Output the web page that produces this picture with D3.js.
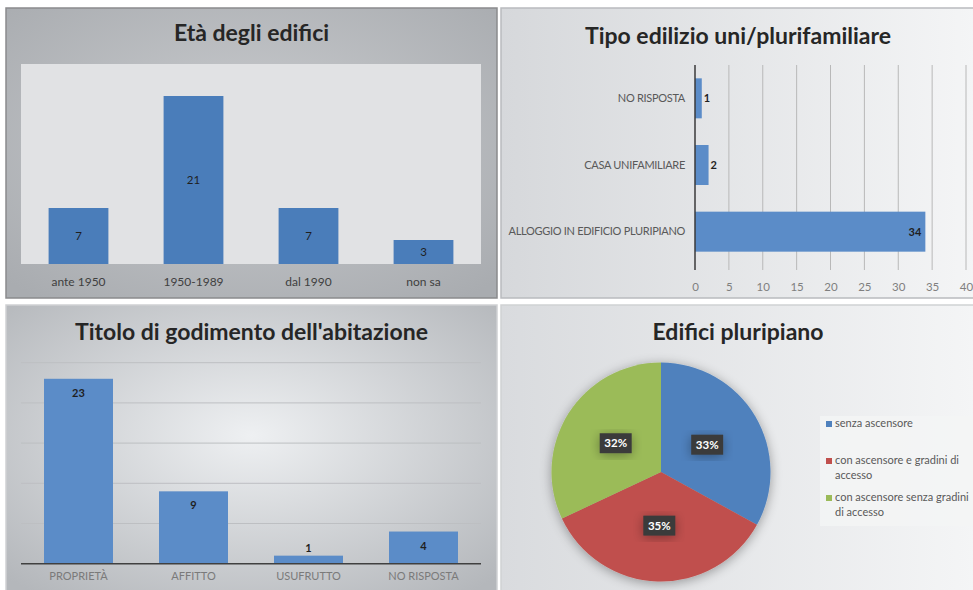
<!DOCTYPE html>
<html>
<head>
<meta charset="utf-8">
<script src="https://cdn.jsdelivr.net/npm/d3@7"></script>
<style>
  body { margin: 0; background: #fff; }
  svg text { font-family: Lato, "Open Sans", sans-serif; }
</style>
</head>
<body>
<div id="vis"></div>
<script>
'use strict';

// chart data
var ageCats = ['ante 1950', '1950-1989', 'dal 1990', 'non sa'];
var ageVals = [7, 21, 7, 3];

var typeCats = ['NO RISPOSTA', 'CASA UNIFAMILIARE', 'ALLOGGIO IN EDIFICIO PLURIPIANO'];
var typeVals = [1, 2, 34];
var typeTicks = [0, 5, 10, 15, 20, 25, 30, 35, 40];

var tenureCats = ['PROPRIETÀ', 'AFFITTO', 'USUFRUTTO', 'NO RISPOSTA'];
var tenureVals = [23, 9, 1, 4];

var liftCats = ['senza ascensore', 'con ascensore e gradini di accesso', 'con ascensore senza gradini di accesso'];
var liftVals = [33, 35, 32];

var pieColors = ['#4f81bd', '#c0504d', '#9bbb59'];

var width = 973, height = 590;

var svg = d3.select('#vis').append('svg')
    .attr('width', width)
    .attr('height', height);

var defs = svg.append('defs');

// panel backgrounds
function radial(id, inner, outer) {
    var g = defs.append('radialGradient').attr('id', id)
        .attr('cx', '50%').attr('cy', '45%').attr('r', '70%');
    g.append('stop').attr('offset', '0%').attr('stop-color', inner);
    g.append('stop').attr('offset', '100%').attr('stop-color', outer);
}
function linear(id, left, right) {
    var g = defs.append('linearGradient').attr('id', id)
        .attr('x1', '0%').attr('y1', '0%').attr('x2', '100%').attr('y2', '0%');
    g.append('stop').attr('offset', '0%').attr('stop-color', left);
    g.append('stop').attr('offset', '100%').attr('stop-color', right);
}
radial('bg1', '#cacccf', '#a9acb0');
linear('bg2', '#d6d8db', '#f4f5f6');
radial('bg3', '#eef0f2', '#b4b7bb');
linear('bg4', '#d9dbde', '#f4f5f6');

var shadow = defs.append('filter').attr('id', 'shadow')
    .attr('x', '-30%').attr('y', '-30%').attr('width', '160%').attr('height', '160%');
shadow.append('feGaussianBlur').attr('in', 'SourceAlpha').attr('stdDeviation', 6);
shadow.append('feOffset').attr('dx', 0).attr('dy', 2).attr('result', 'blur');
shadow.append('feComponentTransfer').append('feFuncA').attr('type', 'linear').attr('slope', 0.35);
var merge = shadow.append('feMerge');
merge.append('feMergeNode');
merge.append('feMergeNode').attr('in', 'SourceGraphic');

function panel(x, y, w, h, fill, stroke, title, titleY) {
    var g = svg.append('g').attr('transform', 'translate(' + x + ',' + y + ')');
    g.append('rect')
        .attr('width', w).attr('height', h)
        .attr('fill', 'url(#' + fill + ')')
        .attr('stroke', stroke)
        .attr('stroke-width', 1.5);
    g.append('text')
        .attr('x', w / 2).attr('y', titleY)
        .attr('text-anchor', 'middle')
        .attr('font-size', 23)
        .attr('font-weight', 'bold')
        .attr('fill', '#262626')
        .text(title);
    return g;
}

// ---- 1. Età degli edifici ----
var p1 = panel(6, 8, 491, 290, 'bg1', '#8a8b8d', 'Età degli edifici', 33);
var x1 = d3.scaleBand().domain(ageCats).range([15, 475]).paddingInner(0.48).paddingOuter(0.24);
var y1 = d3.scaleLinear().domain([0, 25]).range([256, 56]);

p1.append('rect')
    .attr('x', 15).attr('y', y1(25))
    .attr('width', 460).attr('height', y1(0) - y1(25))
    .attr('fill', '#e1e2e4');

p1.selectAll('.bar').data(ageVals).enter().append('rect')
    .attr('class', 'bar')
    .attr('x', function(d, i) { return x1(ageCats[i]); })
    .attr('y', function(d) { return y1(d); })
    .attr('width', x1.bandwidth())
    .attr('height', function(d) { return y1(0) - y1(d); })
    .attr('fill', '#4a7dba');

p1.selectAll('.val').data(ageVals).enter().append('text')
    .attr('x', function(d, i) { return x1(ageCats[i]) + x1.bandwidth() / 2; })
    .attr('y', function(d) { return (y1(d) + y1(0)) / 2 + 4; })
    .attr('text-anchor', 'middle')
    .attr('font-size', 11.5)
    .attr('fill', '#1f1f1f')
    .text(function(d) { return d; });

var ax1 = p1.append('g').attr('transform', 'translate(0,' + y1(0) + ')')
    .call(d3.axisBottom(x1).tickSize(0).tickPadding(13));
ax1.select('.domain').remove();
ax1.selectAll('text').attr('font-size', 12).attr('fill', '#404040').style('font-family', 'Lato, sans-serif');

// ---- 2. Tipo edilizio uni/plurifamiliare ----
var p2 = panel(501, 8, 474, 290, 'bg2', '#b9bbbe', 'Tipo edilizio uni/plurifamiliare', 36);
var x2 = d3.scaleLinear().domain([0, 40]).range([194, 465]);
var y2 = d3.scaleBand().domain(typeCats).range([57, 257]).paddingInner(0.4).paddingOuter(0.2);

p2.selectAll('.grid').data(typeTicks.slice(1)).enter().append('line')
    .attr('x1', function(d) { return x2(d); })
    .attr('x2', function(d) { return x2(d); })
    .attr('y1', 57).attr('y2', 262)
    .attr('stroke', '#b8b8b8').attr('stroke-width', 1);

p2.selectAll('.bar').data(typeVals).enter().append('rect')
    .attr('x', x2(0))
    .attr('y', function(d, i) { return y2(typeCats[i]); })
    .attr('width', function(d) { return x2(d) - x2(0); })
    .attr('height', y2.bandwidth())
    .attr('fill', '#5b8cc8');

p2.append('line')
    .attr('x1', x2(0)).attr('x2', x2(0))
    .attr('y1', 57).attr('y2', 262)
    .attr('stroke', '#3a3a3a').attr('stroke-width', 1.5);

p2.selectAll('.val').data(typeVals).enter().append('text')
    .attr('x', function(d) { return d > 5 ? x2(d) - 4 : x2(d) + 2; })
    .attr('y', function(d, i) { return y2(typeCats[i]) + y2.bandwidth() / 2 + 4; })
    .attr('text-anchor', function(d) { return d > 5 ? 'end' : 'start'; })
    .attr('font-size', 11)
    .attr('font-weight', 'bold')
    .attr('fill', '#1f1f1f')
    .text(function(d) { return d; });

var ax2x = p2.append('g').attr('transform', 'translate(0,265)')
    .call(d3.axisBottom(x2).tickValues(typeTicks).tickSize(0).tickPadding(10));
ax2x.select('.domain').remove();
ax2x.selectAll('text').attr('font-size', 11.5).attr('fill', '#7f7f7f').style('font-family', 'Lato, sans-serif');

var ax2y = p2.append('g').attr('transform', 'translate(' + (x2(0) - 10) + ',0)')
    .call(d3.axisLeft(y2).tickSize(0).tickPadding(0));
ax2y.select('.domain').remove();
ax2y.selectAll('text').attr('font-size', 11).attr('fill', '#595959')
    .attr('letter-spacing', -0.3).style('font-family', 'Lato, sans-serif');

// ---- 3. Titolo di godimento dell'abitazione ----
var p3 = panel(6, 305, 491, 290, 'bg3', '#cfd1d3', "Titolo di godimento dell'abitazione", 35);
var x3 = d3.scaleBand().domain(tenureCats).range([15, 475]).paddingInner(0.4).paddingOuter(0.2);
var y3 = d3.scaleLinear().domain([0, 25]).range([258.7, 57.7]);

p3.selectAll('.grid').data(y3.ticks(5).slice(1)).enter().append('line')
    .attr('x1', 15).attr('x2', 475)
    .attr('y1', function(d) { return y3(d); })
    .attr('y2', function(d) { return y3(d); })
    .attr('stroke', '#bdbfc2').attr('stroke-width', 1);

p3.selectAll('.bar').data(tenureVals).enter().append('rect')
    .attr('x', function(d, i) { return x3(tenureCats[i]); })
    .attr('y', function(d) { return y3(d); })
    .attr('width', x3.bandwidth())
    .attr('height', function(d) { return y3(0) - y3(d); })
    .attr('fill', '#5b8cc8');

p3.append('line')
    .attr('x1', 15).attr('x2', 475)
    .attr('y1', y3(0)).attr('y2', y3(0))
    .attr('stroke', '#404040').attr('stroke-width', 1.5);

p3.selectAll('.val').data(tenureVals).enter().append('text')
    .attr('x', function(d, i) { return x3(tenureCats[i]) + x3.bandwidth() / 2; })
    .attr('y', function(d) { return d > 2 ? y3(d) + 18 : y3(d) - 4; })
    .attr('text-anchor', 'middle')
    .attr('font-size', 11)
    .attr('font-weight', 'bold')
    .attr('fill', '#1f1f1f')
    .text(function(d) { return d; });

var ax3 = p3.append('g').attr('transform', 'translate(0,' + y3(0) + ')')
    .call(d3.axisBottom(x3).tickSize(0).tickPadding(9));
ax3.select('.domain').remove();
ax3.selectAll('text').attr('font-size', 11).attr('fill', '#7a7a7a').style('font-family', 'Lato, sans-serif');

// ---- 4. Edifici pluripiano ----
var p4 = panel(501, 305, 474, 290, 'bg4', '#d0d2d4', 'Edifici pluripiano', 35);
var r = 109.5;
var cx = 160, cy = 167;
var pie = d3.pie().sort(null)(liftVals);
var arc = d3.arc().innerRadius(0).outerRadius(r);
var labelArc = d3.arc().innerRadius(0).outerRadius(r * 0.98);

var pg = p4.append('g').attr('transform', 'translate(' + cx + ',' + cy + ')');
pg.append('g').attr('filter', 'url(#shadow)')
    .selectAll('path').data(pie).enter().append('path')
    .attr('d', arc)
    .attr('fill', function(d, i) { return pieColors[i]; });

var lbl = pg.selectAll('.lbl').data(pie).enter().append('g')
    .attr('transform', function(d) { return 'translate(' + labelArc.centroid(d) + ')'; });
lbl.append('rect')
    .attr('x', -16).attr('y', -10)
    .attr('width', 32).attr('height', 20)
    .attr('fill', '#3b3b3b')
    .attr('filter', 'url(#shadow)');
lbl.append('text')
    .attr('y', 4)
    .attr('text-anchor', 'middle')
    .attr('font-size', 11.5)
    .attr('font-weight', 'bold')
    .attr('fill', '#ffffff')
    .text(function(d) { return d.data + '%'; });

// legend
var leg = p4.append('g').attr('transform', 'translate(319,111)');
leg.append('rect')
    .attr('width', 160).attr('height', 110)
    .attr('fill', '#f3f4f5').attr('opacity', 0.85);
var legLines = [['senza ascensore'], ['con ascensore e gradini di', 'accesso'], ['con ascensore senza gradini', 'di accesso']];
var legY = [11, 48, 85];
var item = leg.selectAll('.item').data(liftCats).enter().append('g')
    .attr('transform', function(d, i) { return 'translate(6,' + legY[i] + ')'; });
item.append('rect')
    .attr('width', 6).attr('height', 6).attr('y', -6)
    .attr('fill', function(d, i) { return pieColors[i]; });
item.append('text')
    .attr('x', 9)
    .attr('font-size', 11)
    .attr('fill', '#595959')
    .selectAll('tspan').data(function(d, i) { return legLines[i]; }).enter().append('tspan')
    .attr('x', 9)
    .attr('dy', function(d, j) { return j === 0 ? 0 : 15; })
    .text(function(d) { return d; });
</script>
</body>
</html>
